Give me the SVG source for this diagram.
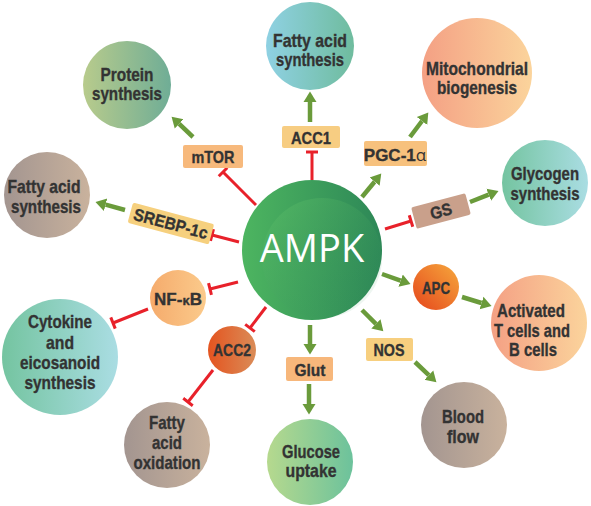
<svg xmlns="http://www.w3.org/2000/svg" width="591" height="506" viewBox="0 0 591 506">
<defs>
<linearGradient id="gProt" x1="0" x2="1" y1="0" y2="0"><stop offset="0" stop-color="#b8cb8c"/><stop offset="1" stop-color="#6fad96"/></linearGradient>
<linearGradient id="gBlue" x1="0" x2="1" y1="0" y2="0"><stop offset="0" stop-color="#8fd1e3"/><stop offset="1" stop-color="#6fbc9e"/></linearGradient>
<linearGradient id="gPeach" x1="0" x2="1" y1="0" y2="0"><stop offset="0" stop-color="#f4a084"/><stop offset="1" stop-color="#fbd49c"/></linearGradient>
<linearGradient id="gTeal" x1="0" x2="1" y1="0" y2="0"><stop offset="0" stop-color="#74c4a0"/><stop offset="1" stop-color="#aadde3"/></linearGradient>
<linearGradient id="gTaupe" x1="0" x2="1" y1="0" y2="0"><stop offset="0" stop-color="#a39590"/><stop offset="1" stop-color="#c9b29d"/></linearGradient>
<linearGradient id="gGluc" x1="0" x2="1" y1="0" y2="0"><stop offset="0" stop-color="#b6d98e"/><stop offset="1" stop-color="#6cc29c"/></linearGradient>
<linearGradient id="gAPC" x1="0" x2="1" y1="1" y2="0"><stop offset="0" stop-color="#e5461c"/><stop offset="1" stop-color="#f6a83c"/></linearGradient>
<linearGradient id="gACC2" x1="0" x2="1" y1="0" y2="0"><stop offset="0" stop-color="#e4541f"/><stop offset="1" stop-color="#da8c58"/></linearGradient>
<linearGradient id="gNF" x1="0" x2="1" y1="0" y2="0"><stop offset="0" stop-color="#f5ab6c"/><stop offset="1" stop-color="#fbca8b"/></linearGradient>
<linearGradient id="gAMPK" x1="0" x2="1" y1="0" y2="0"><stop offset="0" stop-color="#4db560"/><stop offset="1" stop-color="#2d8757"/></linearGradient>
<linearGradient id="gAMPKin" x1="0" x2="1" y1="0" y2="1"><stop offset="0" stop-color="#5cbf68" stop-opacity="0.55"/><stop offset="1" stop-color="#2f8a58" stop-opacity="0"/></linearGradient>
<marker id="ah" markerUnits="userSpaceOnUse" markerWidth="12" markerHeight="16" viewBox="0 -8 12 16" refX="0" refY="0" orient="auto">
<path d="M0,-6.5 L10.5,0 L0,6.5 Z" fill="#6a9b3b"/>
</marker>
<marker id="bar" markerUnits="userSpaceOnUse" markerWidth="4" markerHeight="16" viewBox="-2 -8 4 16" refX="0" refY="0" orient="auto">
<path d="M0,-6 L0,6" stroke="#e8212a" stroke-width="3"/>
</marker>
</defs>
<style>
.t{font-family:"Liberation Sans",Arial,sans-serif;font-weight:bold;font-size:18.5px;fill:#333333;stroke:#333333;stroke-width:0.35;text-anchor:middle}
.b{font-size:17px}
.s{font-size:17.5px}
.act{stroke:#6a9b3b;stroke-width:4.5;fill:none;marker-end:url(#ah)}
.inh{stroke:#e8212a;stroke-width:3;fill:none;marker-end:url(#bar)}
.box{stroke:none}
</style>
<g id="connectors">
<line class="act" x1="193" y1="137" x2="179.2" y2="123.9"/>
<line class="act" x1="310" y1="122" x2="310" y2="102"/>
<line class="act" x1="362" y1="197" x2="374.6" y2="181.7"/>
<line class="act" x1="410" y1="137" x2="422" y2="121"/>
<line class="act" x1="470" y1="202" x2="488.7" y2="194.7"/>
<line class="act" x1="382" y1="274" x2="400.6" y2="280.6"/>
<line class="act" x1="462" y1="297" x2="481.5" y2="303"/>
<line class="act" x1="362" y1="310" x2="375.9" y2="323.9"/>
<line class="act" x1="415" y1="362" x2="428.8" y2="375.1"/>
<line class="act" x1="310" y1="325" x2="310" y2="344"/>
<line class="act" x1="309" y1="384" x2="309" y2="404"/>
<line class="act" x1="125" y1="210" x2="105.6" y2="204.7"/>
<line class="inh" x1="256" y1="205" x2="223" y2="172"/>
<line class="inh" x1="312" y1="180" x2="312" y2="152"/>
<line class="inh" x1="239" y1="242" x2="212" y2="235"/>
<line class="inh" x1="385" y1="229" x2="411" y2="221"/>
<line class="inh" x1="238" y1="282" x2="210" y2="289"/>
<line class="inh" x1="148" y1="309" x2="113" y2="323"/>
<line class="inh" x1="266" y1="307" x2="250" y2="328"/>
<line class="inh" x1="213" y1="370" x2="188" y2="402"/>
</g>
<g id="ampk">
<circle cx="312" cy="250" r="70" fill="url(#gAMPK)"/>
<circle cx="322" cy="258" r="60" fill="url(#gAMPKin)"/>
<text x="312" y="262" font-family="'Open Sans','Lato',sans-serif" font-size="38" fill="#ffffff" text-anchor="middle">AMPK</text>
</g>
<g id="protein-synthesis">
<circle cx="127" cy="85" r="44" fill="url(#gProt)"/>
<text class="t" x="127" y="81" textLength="53" lengthAdjust="spacingAndGlyphs">Protein</text>
<text class="t" x="127" y="100" textLength="70" lengthAdjust="spacingAndGlyphs">synthesis</text>
</g>
<g id="fatty-acid-synthesis-top">
<circle cx="310" cy="46" r="44" fill="url(#gBlue)"/>
<text class="t" x="310" y="47" textLength="74" lengthAdjust="spacingAndGlyphs">Fatty acid</text>
<text class="t" x="310" y="66" textLength="68" lengthAdjust="spacingAndGlyphs">synthesis</text>
</g>
<g id="mitochondrial-biogenesis">
<circle cx="477" cy="73" r="55" fill="url(#gPeach)"/>
<text class="t" x="477" y="75" textLength="102" lengthAdjust="spacingAndGlyphs">Mitochondrial</text>
<text class="t" x="477" y="94" textLength="80" lengthAdjust="spacingAndGlyphs">biogenesis</text>
</g>
<g id="glycogen-synthesis">
<circle cx="545" cy="183" r="43" fill="url(#gTeal)"/>
<text class="t s" x="545" y="180" textLength="68" lengthAdjust="spacingAndGlyphs">Glycogen</text>
<text class="t s" x="545" y="200" textLength="69" lengthAdjust="spacingAndGlyphs">synthesis</text>
</g>
<g id="activated-cells">
<circle cx="539" cy="323" r="48" fill="url(#gPeach)"/>
<text class="t" x="531" y="317" textLength="68" lengthAdjust="spacingAndGlyphs">Activated</text>
<text class="t" x="532" y="337" textLength="76" lengthAdjust="spacingAndGlyphs">T cells and</text>
<text class="t" x="533" y="356" textLength="48" lengthAdjust="spacingAndGlyphs">B cells</text>
</g>
<g id="blood-flow">
<circle cx="464" cy="425" r="43" fill="url(#gTaupe)"/>
<text class="t" x="463" y="423" textLength="42" lengthAdjust="spacingAndGlyphs">Blood</text>
<text class="t" x="463" y="443" textLength="32" lengthAdjust="spacingAndGlyphs">flow</text>
</g>
<g id="glucose-uptake">
<circle cx="310" cy="462" r="43" fill="url(#gGluc)"/>
<text class="t" x="311" y="458" textLength="58" lengthAdjust="spacingAndGlyphs">Glucose</text>
<text class="t" x="311" y="477" textLength="51" lengthAdjust="spacingAndGlyphs">uptake</text>
</g>
<g id="fatty-acid-oxidation">
<circle cx="167" cy="445" r="43" fill="url(#gTaupe)"/>
<text class="t" x="167" y="429" textLength="36" lengthAdjust="spacingAndGlyphs">Fatty</text>
<text class="t" x="167" y="449" textLength="30" lengthAdjust="spacingAndGlyphs">acid</text>
<text class="t" x="167" y="469" textLength="67" lengthAdjust="spacingAndGlyphs">oxidation</text>
</g>
<g id="cytokine-synthesis">
<circle cx="60" cy="357" r="58" fill="url(#gTeal)"/>
<text class="t" x="60" y="328" textLength="64" lengthAdjust="spacingAndGlyphs">Cytokine</text>
<text class="t" x="60" y="349" textLength="28" lengthAdjust="spacingAndGlyphs">and</text>
<text class="t" x="60" y="369" textLength="80" lengthAdjust="spacingAndGlyphs">eicosanoid</text>
<text class="t" x="60" y="389" textLength="71" lengthAdjust="spacingAndGlyphs">synthesis</text>
</g>
<g id="fatty-acid-synthesis-left">
<circle cx="47" cy="195" r="43" fill="url(#gTaupe)"/>
<text class="t" x="44" y="193" textLength="73" lengthAdjust="spacingAndGlyphs">Fatty acid</text>
<text class="t" x="46" y="213" textLength="70" lengthAdjust="spacingAndGlyphs">synthesis</text>
</g>
<g id="mtor">
<rect class="box" x="183" y="145" width="60" height="23" rx="2" fill="#f7b97c"/>
<text class="t b" x="213" y="163" textLength="43" lengthAdjust="spacingAndGlyphs">mTOR</text>
</g>
<g id="acc1">
<rect class="box" x="282" y="126" width="58" height="22" rx="2" fill="#f7cd82"/>
<text class="t b" x="311" y="144" textLength="40" lengthAdjust="spacingAndGlyphs">ACC1</text>
</g>
<g id="pgc1a">
<rect class="box" x="364" y="141" width="63" height="25" rx="2" fill="#f7c17d"/>
<text class="t b" x="395" y="161">PGC-1<tspan font-family="'Open Sans',sans-serif" font-weight="normal" stroke-width="0">α</tspan></text>
</g>
<g id="gs" transform="rotate(-15 441 211)">
<rect class="box" x="413" y="200" width="56" height="22" rx="2" fill="#c9a08b"/>
<text class="t b" x="441" y="217" textLength="22" lengthAdjust="spacingAndGlyphs">GS</text>
</g>
<g id="srebp1c" transform="rotate(15 171 223)">
<rect class="box" x="129" y="213" width="84" height="21" rx="2" fill="#f6d07e"/>
<text class="t b" x="171" y="229.5" textLength="76" lengthAdjust="spacingAndGlyphs">SREBP-1c</text>
</g>
<g id="apc">
<circle cx="436" cy="287" r="23" fill="url(#gAPC)"/>
<text class="t b" x="436" y="294" textLength="28" lengthAdjust="spacingAndGlyphs">APC</text>
</g>
<g id="nos">
<rect class="box" x="366" y="338" width="47" height="23" rx="2" fill="#f7cf7f"/>
<text class="t b" x="389" y="356" textLength="31" lengthAdjust="spacingAndGlyphs">NOS</text>
</g>
<g id="glut">
<rect class="box" x="286" y="357" width="47" height="24" rx="2" fill="#f7b77b"/>
<text class="t b" x="310" y="376" textLength="31" lengthAdjust="spacingAndGlyphs">Glut</text>
</g>
<g id="acc2">
<circle cx="232" cy="350" r="24" fill="url(#gACC2)"/>
<text class="t b" x="232" y="356" textLength="38" lengthAdjust="spacingAndGlyphs">ACC2</text>
</g>
<g id="nfkb">
<circle cx="178" cy="298" r="28" fill="url(#gNF)"/>
<text class="t b" x="178" y="305">NF-<tspan font-size="13">κ</tspan>B</text>
</g>
</svg>
